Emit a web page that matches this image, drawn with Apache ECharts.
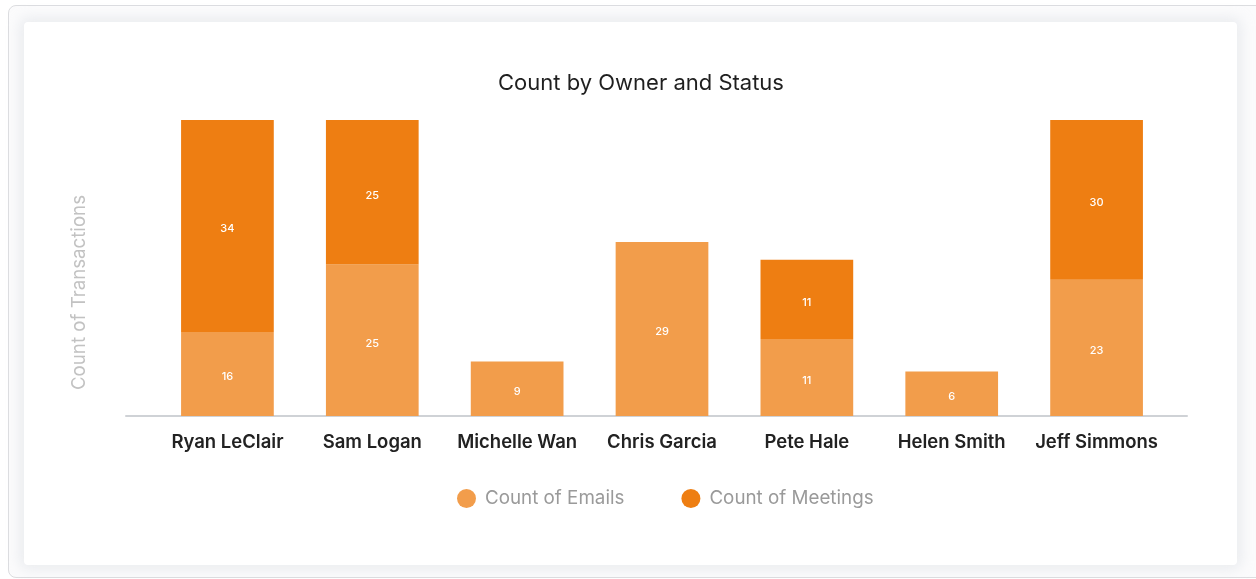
<!DOCTYPE html>
<html>
<head>
<meta charset="utf-8">
<script src="https://cdn.jsdelivr.net/npm/echarts@6/dist/echarts.min.js"></script>
<style>
  html, body { margin: 0; padding: 0; width: 1256px; height: 579px; background: #ffffff; overflow: hidden; }
  #card { position: absolute; left: 8px; top: 5px; width: 1270px; height: 571px; border: 1px solid #dcdde0; border-radius: 8px; background: #fbfbfc; }
  #panel { position: absolute; left: 24px; top: 22px; width: 1213px; height: 543px; background: #ffffff; box-shadow: 0 0 14px 4px rgba(200,205,215,0.35); border-radius: 4px; }
  #chart { position: absolute; left: 0; top: 0; width: 1256px; height: 579px; }
</style>
</head>
<body>
<div id="card"></div>
<div id="panel"></div>
<div id="chart"></div>
<script>
const categories = ['Ryan LeClair', 'Sam Logan', 'Michelle Wan', 'Chris Garcia', 'Pete Hale', 'Helen Smith', 'Jeff Simmons'];
// bar heights (axis max 50)
const emails = [14.2, 25.6, 9.2, 29.4, 13.0, 7.5, 23.0];
const meetings = [35.8, 24.4, null, null, 13.4, null, 27.0];
// numbers printed on the bars
const emailLabels = ['16', '25', '9', '29', '11', '6', '23'];
const meetingLabels = ['34', '25', '', '', '11', '', '30'];
const seriesNames = ['Count of Emails', 'Count of Meetings'];
const yMax = 50;

const FONT = 'Inter, "Open Sans", sans-serif';
const chart = echarts.init(document.getElementById('chart'), null, { renderer: 'canvas' });

const labelStyle = {
  show: true,
  position: 'inside',
  offset: [0, 3],
  color: '#ffffff',
  fontSize: 11,
  fontWeight: 500,
  fontFamily: FONT
};

chart.setOption({
  animation: false,
  backgroundColor: 'transparent',
  title: {
    text: 'Count by Owner and Status',
    left: 636,
    textAlign: 'center',
    top: 67,
    textStyle: { fontFamily: FONT, fontSize: 22, fontWeight: 'normal', color: '#1f1f1f' }
  },
  legend: {
    data: seriesNames,
    left: 452,
    top: 484,
    icon: 'circle',
    itemWidth: 19,
    itemHeight: 19,
    itemGap: 57,
    textStyle: { fontFamily: FONT, fontSize: 18.8, color: '#9a9a9a', padding: [0, 0, 0, 4] }
  },
  graphic: [{
    type: 'text',
    left: 70,
    top: 195,
    rotation: Math.PI / 2,
    style: {
      text: 'Count of Transactions',
      fontFamily: FONT,
      fontSize: 18.7,
      fill: '#c2c2c2'
    }
  }],
  grid: [
    { left: 155, right: 87, top: 120, bottom: 163, containLabel: false },
    { left: 126, right: 69, top: 120, bottom: 163, containLabel: false }
  ],
  xAxis: [
    {
      type: 'category',
      gridIndex: 0,
      data: categories,
      axisLine: { show: false },
      axisTick: { show: false },
      axisLabel: { interval: 0, hideOverlap: false, margin: 17, fontFamily: FONT, fontSize: 18.5, fontWeight: 600, color: '#222222' }
    },
    {
      type: 'value',
      gridIndex: 1,
      min: 0, max: 1,
      axisLine: { show: true, onZero: false, lineStyle: { color: '#cfd2d6', width: 2 } },
      axisTick: { show: false },
      axisLabel: { show: false },
      splitLine: { show: false }
    }
  ],
  yAxis: [
    {
      type: 'value',
      gridIndex: 0,
      min: 0,
      max: yMax,
      axisLine: { show: false },
      axisTick: { show: false },
      axisLabel: { show: false },
      splitLine: { show: false }
    },
    {
      type: 'value',
      gridIndex: 1,
      min: 0, max: 1,
      show: false
    }
  ],
  series: [
    {
      name: seriesNames[0],
      type: 'bar',
      stack: 'total',
      barWidth: '64%',
      itemStyle: { color: '#f29d4b' },
      label: Object.assign({}, labelStyle, { formatter: p => emailLabels[p.dataIndex] }),
      data: emails
    },
    {
      name: seriesNames[1],
      type: 'bar',
      stack: 'total',
      barWidth: '64%',
      itemStyle: { color: '#ee7e12' },
      label: Object.assign({}, labelStyle, { formatter: p => meetingLabels[p.dataIndex] }),
      data: meetings
    }
  ]
});
</script>
</body>
</html>
